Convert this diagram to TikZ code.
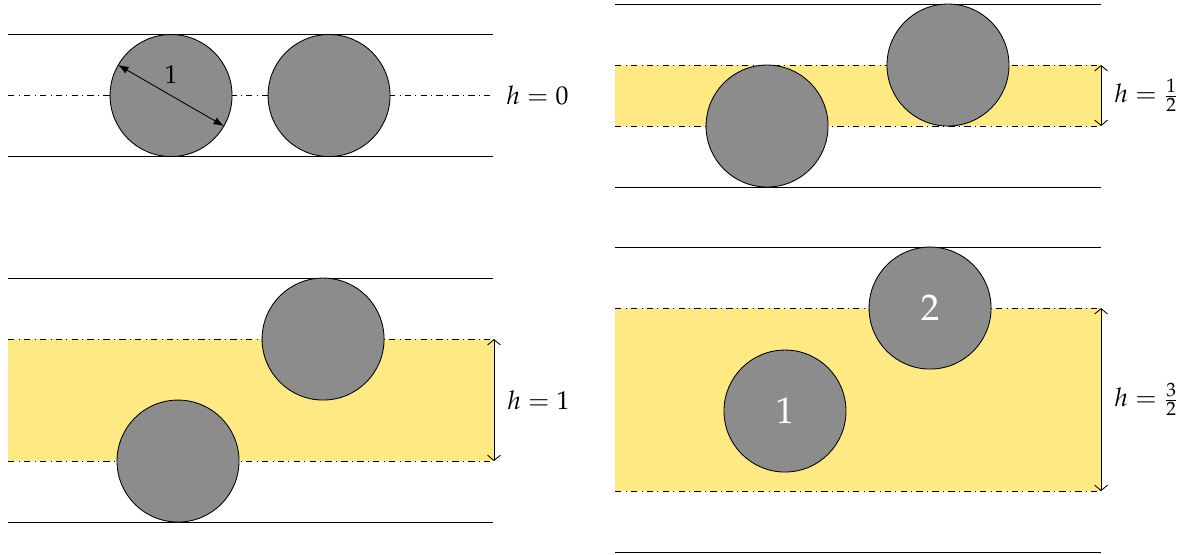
\documentclass[tikz,border=0pt]{standalone}
\usepackage[T1]{fontenc}
\usepackage{mathpazo}
\usepackage{tikz}
\usetikzlibrary{arrows.meta}

\definecolor{ballgray}{RGB}{140,140,140}
\definecolor{bandyellow}{RGB}{254,233,130}

\begin{document}
\begin{tikzpicture}[
        x=2cm, y=2cm,
        ball/.style={circle, draw=black, fill=ballgray, minimum size=2cm,
                     inner sep=0pt, outer sep=0pt, text=white, font=\LARGE},
        wall/.style={draw=black, thin},
        midline/.style={draw=black, thin, dashdotted},
        band/.style={fill=bandyellow},
        gap/.style={{Straight Barb[length=2.5pt, width=6pt]}-{Straight Barb[length=2.5pt, width=6pt]}, thin},
        diam/.style={Latex-Latex, thin},
        hlabel/.style={right, font=\large, inner sep=6pt}
    ]
    \useasboundingbox (0,0) rectangle (9.770,-4.541);

    % h = 0
    \draw[wall] (0.066,-0.283) -- (4.041,-0.283);
    \draw[wall] (0.066,-1.283) -- (4.041,-1.283);
    \coordinate (c0l) at (0.066,-0.783);
    \coordinate (c0r) at (4.041,-0.783);
    \draw[midline] (c0l) -- (c0r);
    \node[ball] (b0a) at (1.402,-0.783) {};
    \node[ball] (b0b) at (2.697,-0.783) {};
    \draw[diam] (b0a.150) -- node[above=2pt, font=\large]{1} (b0a.-30);
    \node[hlabel] (h0) at (c0r) {$h=0$};

    % h = 1/2
    \fill[band] (5.041,-0.533) rectangle (9.025,-1.033);
    \draw[wall] (5.041,-0.033) -- (9.025,-0.033);
    \draw[wall] (5.041,-1.533) -- (9.025,-1.533);
    \coordinate (t1) at (9.025,-0.533);
    \coordinate (u1) at (9.025,-1.033);
    \draw[midline] (5.041,-0.533) -- (t1);
    \draw[midline] (5.041,-1.033) -- (u1);
    \node[ball] (b1a) at (6.287,-1.033) {};
    \node[ball] (b1b) at (7.770,-0.533) {};
    \draw[gap] (t1) -- node[hlabel]{$h=\frac{1}{2}$} (u1);

    % h = 1
    \fill[band] (0.066,-2.779) rectangle (4.049,-3.779);
    \draw[wall] (0.066,-2.279) -- (4.041,-2.279);
    \draw[wall] (0.066,-4.279) -- (4.041,-4.279);
    \coordinate (t2) at (4.049,-2.779);
    \coordinate (u2) at (4.049,-3.779);
    \draw[midline] (0.066,-2.779) -- (t2);
    \draw[midline] (0.066,-3.779) -- (u2);
    \node[ball] (b2a) at (1.459,-3.779) {};
    \node[ball] (b2b) at (2.648,-2.779) {};
    \draw[gap] (t2) -- node[hlabel]{$h=1$} (u2);

    % h = 3/2
    \fill[band] (5.041,-2.525) rectangle (9.025,-4.025);
    \draw[wall] (5.041,-2.025) -- (9.025,-2.025);
    \draw[wall] (5.041,-4.525) -- (9.025,-4.525);
    \coordinate (t3) at (9.025,-2.525);
    \coordinate (u3) at (9.025,-4.025);
    \draw[midline] (5.041,-2.525) -- (t3);
    \draw[midline] (5.041,-4.025) -- (u3);
    \node[ball] (b3a) at (6.434,-3.369) {1};
    \node[ball] (b3b) at (7.623,-2.525) {2};
    \draw[gap] (t3) -- node[hlabel]{$h=\frac{3}{2}$} (u3);
\end{tikzpicture}
\end{document}
